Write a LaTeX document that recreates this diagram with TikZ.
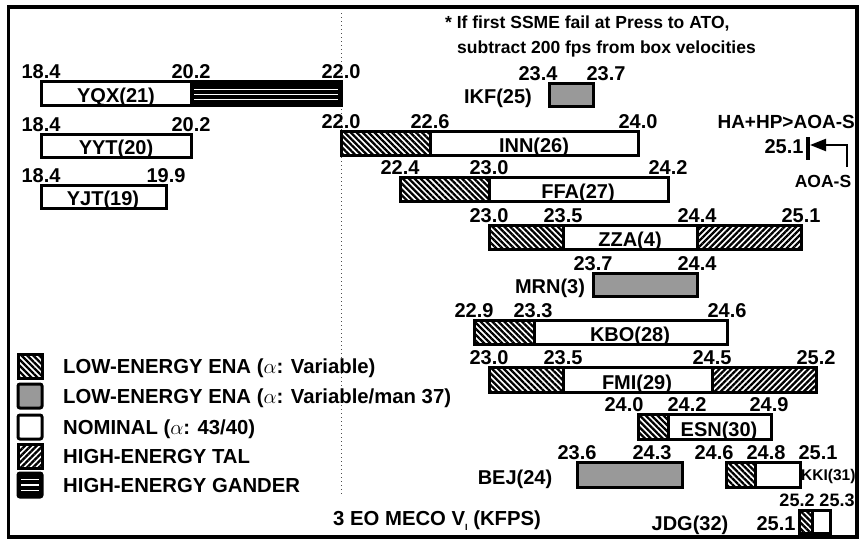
\documentclass[tikz,border=0pt]{standalone}
\usepackage{fontspec}
\setmainfont{Liberation Sans}
\usetikzlibrary{patterns.meta,arrows.meta}
\tikzset{
	lowena/.style={pattern={Lines[angle=-45,distance=4.2pt,line width=2.3pt]}},
	hightal/.style={pattern={Lines[angle=45,distance=4.2pt,line width=2.3pt]}},
	manual/.style={fill=black!40},
	edge/.style={line width=3pt},
	val/.style={font=\fontsize{20}{20}\selectfont\bfseries,anchor=base,inner sep=0pt},
	lab/.style={font=\fontsize{20}{20}\selectfont\bfseries,anchor=base,inner sep=0pt},
	legtext/.style={font=\fontsize{20.3}{20.3}\selectfont\bfseries,anchor=base west,inner sep=0pt},
	note/.style={font=\fontsize{17.5}{17.5}\selectfont\bfseries,anchor=base west,inner sep=0pt}
}
\begin{document}
\begin{tikzpicture}[x=1pt,y=-1pt]
	\useasboundingbox (0,0) rectangle (859,542);
	\draw[line width=3.2pt] (8.5,7) rectangle (857,537);
	\draw[black!70,line width=1pt,dash pattern=on 1pt off 3pt] (341,13) -- (341,497);
	\node[note] (note1) at (445,28) {* If first SSME fail at Press to ATO,};
	\node[note] (note2) at (457,53) {subtract 200 fps from box velocities};
	% YQX
	\fill (191,81) rectangle (341,105);
	\foreach \y in {89.5,94.5,99.5}
		\draw[white,line width=1.5pt] (194,\y) -- (338,\y);
	\draw[edge] (41,81) rectangle (341,105) (191,81) -- (191,105);
	\foreach \x/\v [count=\i] in {41/18.4,191/20.2,341/22.0}
		\node[val] (yqx-v\i) at (\x,78) {\v};
	\node[lab] (yqx) at (116,102) {YQX(21)};
	% YYT
	\draw[edge] (41,134) rectangle (191,157);
	\foreach \x/\v [count=\i] in {41/18.4,191/20.2}
		\node[val] (yyt-v\i) at (\x,131) {\v};
	\node[lab] (yyt) at (116,154) {YYT(20)};
	% YJT
	\draw[edge] (41,185) rectangle (166,208);
	\foreach \x/\v [count=\i] in {41/18.4,166/19.9}
		\node[val] (yjt-v\i) at (\x,182) {\v};
	\node[lab] (yjt) at (103,205) {YJT(19)};
	% IKF
	\draw[edge,manual] (549,83) rectangle (593,106);
	\foreach \x/\v [count=\i] in {538/23.4,606/23.7}
		\node[val] (ikf-v\i) at (\x,80) {\v};
	\node[lab] (ikf) at (498,103) {IKF(25)};
	% INN
	\fill[lowena] (341,131) rectangle (430,155);
	\draw[edge] (341,131) rectangle (638,155) (430,131) -- (430,155);
	\foreach \x/\v [count=\i] in {341/22.0,430/22.6,638/24.0}
		\node[val] (inn-v\i) at (\x,128) {\v};
	\node[lab] (inn) at (534,152) {INN(26)};
	% FFA
	\fill[lowena] (400,177) rectangle (489,201);
	\draw[edge] (400,177) rectangle (668,201) (489,177) -- (489,201);
	\foreach \x/\v [count=\i] in {400/22.4,489/23.0,668/24.2}
		\node[val] (ffa-v\i) at (\x,174) {\v};
	\node[lab] (ffa) at (578,198) {FFA(27)};
	% ZZA
	\fill[lowena] (489,225) rectangle (563,249);
	\fill[hightal] (697,225) rectangle (801,249);
	\draw[edge] (489,225) rectangle (801,249) (563,225) -- (563,249) (697,225) -- (697,249);
	\foreach \x/\v [count=\i] in {489/23.0,563/23.5,697/24.4,801/25.1}
		\node[val] (zza-v\i) at (\x,222) {\v};
	\node[lab] (zza) at (630,246) {ZZA(4)};
	% MRN
	\draw[edge,manual] (593,273) rectangle (697,296);
	\foreach \x/\v [count=\i] in {593/23.7,697/24.4}
		\node[val] (mrn-v\i) at (\x,270) {\v};
	\node[lab] (mrn) at (550,293) {MRN(3)};
	% KBO
	\fill[lowena] (474,320) rectangle (534,344);
	\draw[edge] (474,320) rectangle (727,344) (534,320) -- (534,344);
	\foreach \x/\v [count=\i] in {474/22.9,533/23.3,727/24.6}
		\node[val] (kbo-v\i) at (\x,317) {\v};
	\node[lab] (kbo) at (630,341) {KBO(28)};
	% FMI
	\fill[lowena] (489,367) rectangle (563,392);
	\fill[hightal] (712,367) rectangle (816,392);
	\draw[edge] (489,367) rectangle (816,392) (563,367) -- (563,392) (712,367) -- (712,392);
	\foreach \x/\v [count=\i] in {489/23.0,563/23.5,712/24.5,816/25.2}
		\node[val] (fmi-v\i) at (\x,364) {\v};
	\node[lab] (fmi) at (637,389) {FMI(29)};
	% ESN
	\fill[lowena] (638,414) rectangle (668,439);
	\draw[edge] (638,414) rectangle (771,439) (668,414) -- (668,439);
	\foreach \x/\v [count=\i] in {624/24.0,687/24.2,769/24.9}
		\node[val] (esn-v\i) at (\x,411) {\v};
	\node[lab] (esn) at (719,436) {ESN(30)};
	% BEJ and KKI
	\draw[edge,manual] (577,462) rectangle (682,487);
	\fill[lowena] (726,462) rectangle (755,487);
	\draw[edge] (726,462) rectangle (800,487) (755,462) -- (755,487);
	\foreach \x/\v [count=\i] in {577/23.6,652/24.3,714/24.6,766/24.8,818/25.1}
		\node[val] (bej-v\i) at (\x,459) {\v};
	\node[lab] (bej) at (515,484) {BEJ(24)};
	\node[lab,anchor=base west,font=\fontsize{15.5}{15.5}\selectfont\bfseries] (kki) at (801,480) {KKI(31)};
	% JDG
	\fill[lowena] (799,510) rectangle (812,533);
	\draw[edge] (799,510) rectangle (830,533) (812,510) -- (812,533);
	\foreach \x/\v [count=\i] in {797/25.2,837/25.3}
		\node[val,font=\fontsize{18}{18}\selectfont\bfseries] (jdg-v\i) at (\x,506) {\v};
	\node[val] (jdg-v0) at (776,530) {25.1};
	\node[lab] (jdg) at (690,530) {JDG(32)};
	% AOA-S
	\draw[line width=4pt] (808,137) -- (808,160);
	\coordinate (tick) at (810,145);
	\coordinate (bend) at (847,167);
	\node[lab,anchor=base east,font=\fontsize{19}{19}\selectfont\bfseries] (hahp) at (855,128) {HA+HP>AOA-S};
	\node[val] (tick-v) at (784,153) {25.1};
	\node[lab,font=\fontsize{17.5}{17.5}\selectfont\bfseries] (aoas) at (823,187) {AOA-S};
	\draw[line width=2.2pt,-{Triangle[length=16pt,width=12pt]}] (bend) |- (tick);
	% legend
	\fill[lowena] (18,354) rectangle (42,378);
	\draw[edge,manual,rounded corners=2pt] (18,384) rectangle (42,408);
	\draw[edge,rounded corners=2pt] (18,415) rectangle (42,439);
	\fill[hightal] (18,444) rectangle (42,468);
	\draw[edge] (18,354) rectangle (42,378) (18,444) rectangle (42,468);
	\draw[edge,fill,rounded corners=2pt] (18,473) rectangle (42,497);
	\foreach \y in {479.5,485,490.5}
		\draw[white,line width=1.5pt] (21,\y) -- (39,\y);
	\node[legtext] (leg1) at (63,373) {LOW-ENERGY ENA ($\alpha$: Variable)};
	\node[legtext] (leg2) at (63,403) {LOW-ENERGY ENA ($\alpha$: Variable/man 37)};
	\node[legtext] (leg3) at (63,434) {NOMINAL ($\alpha$: 43/40)};
	\node[legtext] (leg4) at (63,463) {HIGH-ENERGY TAL};
	\node[legtext] (leg5) at (63,492) {HIGH-ENERGY GANDER};
	% axis caption
	\node[legtext] (axis) at (333,525) {3 EO MECO V\raisebox{-5pt}{\fontsize{9}{9}\selectfont I} (KFPS)};
\end{tikzpicture}
\end{document}
